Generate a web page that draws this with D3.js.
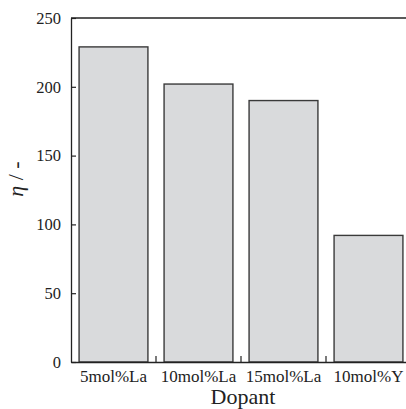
<!DOCTYPE html>
<html><head><meta charset="utf-8">
<script src="https://cdn.jsdelivr.net/npm/d3@7"></script>
<style>body{margin:0;background:#fff}svg{display:block}text{font-family:"Liberation Serif","Times New Roman",serif;fill:#222}</style>
</head><body>
<svg id="c" width="406" height="409"></svg>
<script>
const categories = ["5mol%La", "10mol%La", "15mol%La", "10mol%Y"];
const values = [229, 202, 190, 92];
const yTicks = [0, 50, 100, 150, 200, 250];

const svg = d3.select("#c");
const m = {left: 71, top: 18, right: 411, bottom: 362};
const x = d3.scaleBand().domain(categories).range([m.left, m.right]).paddingInner(0.19).paddingOuter(0.095);
const y = d3.scaleLinear().domain([0, 250]).range([m.bottom, m.top]);

// bars
svg.selectAll("rect.bar").data(values).enter().append("rect")
  .attr("x", (d, i) => x(categories[i]))
  .attr("y", d => y(d))
  .attr("width", x.bandwidth())
  .attr("height", d => y(0) - y(d))
  .attr("fill", "#d9dadc").attr("stroke", "#3a3a3a").attr("stroke-width", 1.4);

// y axis
const ya = svg.append("g").attr("transform", `translate(${m.left},0)`)
  .call(d3.axisLeft(y).tickValues(yTicks).tickSizeInner(-5).tickSizeOuter(0).tickPadding(10));
ya.select(".domain").attr("stroke", "#222").attr("stroke-width", 1.3);
ya.selectAll(".tick line").attr("stroke", "#222").attr("stroke-width", 1.2);
ya.selectAll(".tick text").attr("font-size", 16.5).attr("font-family", "Liberation Serif").attr("fill", "#222");

// x axis
const xa = svg.append("g").attr("transform", `translate(0,${m.bottom})`)
  .call(d3.axisBottom(x).tickSize(0).tickPadding(8));
xa.select(".domain").attr("stroke", "#222").attr("stroke-width", 1.6);
xa.selectAll(".tick text").attr("font-size", 17).attr("font-family", "Liberation Serif").attr("fill", "#222");
// separator ticks between categories
const seps = categories.slice(1).map(c => x(c) - x.step() * x.paddingInner() / 2);
svg.selectAll("line.sep").data(seps).enter().append("line")
  .attr("x1", d => d).attr("x2", d => d)
  .attr("y1", m.bottom).attr("y2", m.bottom - 6)
  .attr("stroke", "#222").attr("stroke-width", 1.2);

// top frame line
svg.append("line").attr("x1", m.left).attr("x2", m.right).attr("y1", m.top).attr("y2", m.top)
  .attr("stroke", "#222").attr("stroke-width", 1.3);

// labels
svg.append("text").attr("x", 243).attr("y", 404).attr("text-anchor", "middle")
  .attr("font-size", 22).text("Dopant");
const yl = svg.append("text").attr("transform", "translate(23,179) rotate(-90)")
  .attr("text-anchor", "middle").attr("font-size", 22);
yl.append("tspan").attr("font-style", "italic").text("η");
yl.append("tspan").text(" / -");
</script>
</body></html>
